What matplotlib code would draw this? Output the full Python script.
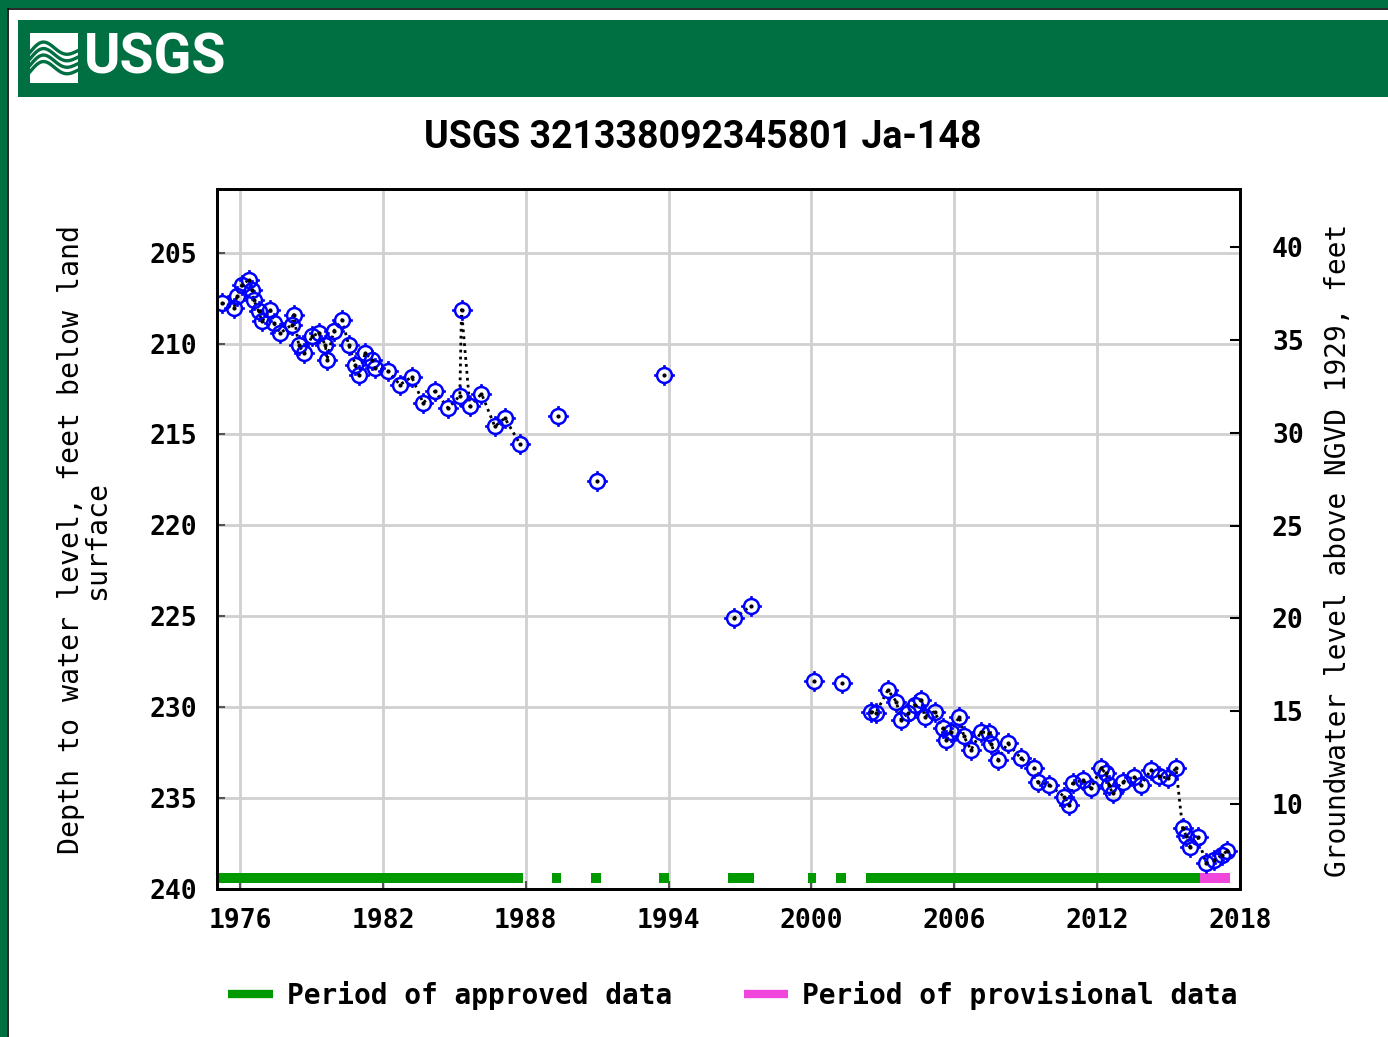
import numpy as np
import matplotlib
matplotlib.use("Agg")
import matplotlib.pyplot as plt
from matplotlib.path import Path
from matplotlib.patches import Rectangle
from matplotlib.lines import Line2D

# --- data ---
years = [
    1975.24, 1975.74, 1975.87, 1976.08, 1976.37, 1976.50, 1976.57, 1976.78, 1976.92,
    1977.27, 1977.41, 1977.69, 1978.18, 1978.25, 1978.46, 1978.67, 1979.02, 1979.30,
    1979.58, 1979.65, 1979.93, 1980.28, 1980.56, 1980.84, 1980.98, 1981.26, 1981.54,
    1981.68, 1982.22, 1982.71, 1983.21, 1983.69, 1984.18, 1984.74, 1985.23, 1985.30,
    1985.65, 1986.14, 1986.70, 1987.12, 1987.75,
    1989.34, 1990.98, 1993.79, 1996.74, 1997.47, 2000.09, 2001.30,
    2002.51, 2002.70, 2003.21, 2003.56, 2003.77, 2004.05, 2004.33, 2004.61, 2004.75,
    2005.17, 2005.51, 2005.66, 2005.85, 2006.21, 2006.40, 2006.70, 2007.12, 2007.47,
    2007.55, 2007.82, 2008.24, 2008.80, 2009.36, 2009.50, 2009.99, 2010.62, 2010.83,
    2010.97, 2011.39, 2011.74, 2012.16, 2012.37, 2012.50, 2012.65, 2013.07, 2013.56,
    2013.84, 2014.26, 2014.60, 2014.96, 2015.31,
    2015.59, 2015.75, 2015.88, 2016.22, 2016.57, 2016.90, 2017.26, 2017.45,
]
depths = [
    207.77, 208.03, 207.40, 206.76, 206.49, 207.04, 207.59, 208.23, 208.78,
    208.14, 208.87, 209.42, 208.96, 208.41, 210.06, 210.52, 209.61, 209.42,
    210.06, 210.89, 209.33, 208.69, 210.06, 211.16, 211.71, 210.52, 210.89,
    211.35, 211.53, 212.26, 211.84, 213.27, 212.63, 213.55, 212.87, 208.14,
    213.46, 212.76, 214.56, 214.10, 215.51,
    213.97, 217.55, 211.71, 225.11, 224.43, 228.56, 228.67,
    230.24, 230.33, 229.05, 229.69, 230.70, 230.30, 229.88, 229.60, 230.52,
    230.24, 231.16, 231.80, 231.35, 230.52, 231.60, 232.35, 231.35, 231.43,
    232.05, 232.90, 231.98, 232.81, 233.36, 234.10, 234.28, 234.92, 235.38,
    234.19, 234.00, 234.46, 233.36, 233.64, 234.30, 234.74, 234.10, 233.82,
    234.28, 233.45, 233.80, 233.90, 233.35,
    236.66, 237.10, 237.67, 237.12, 238.59, 238.40, 238.13, 237.90,
]
approved_start = [1975.0, 1989.1, 1990.75, 1993.6, 1996.5, 1999.86, 2001.05, 2002.3]
approved_end = [1987.9, 1989.5, 1991.15, 1994.0, 1997.6, 2000.2, 2001.45, 2016.3]
provisional_start = [2016.3]
provisional_end = [2017.6]
x_ticks = [1976, 1982, 1988, 1994, 2000, 2006, 2012, 2018]
left_ticks = [205, 210, 215, 220, 225, 230, 235, 240]
right_ticks = [10, 15, 20, 25, 30, 35, 40]

W, H = 1388, 1037
fig = plt.figure(figsize=(W / 100, H / 100), dpi=100)
fig.patch.set_facecolor("white")

GREEN_DARK = "#006F41"
mono = "DejaVu Sans Mono"
narrow = ["Roboto", "DejaVu Sans"]

# outer frame (left and top only visible)
fig.patches.append(Rectangle((0, 0), 7 / W, 1, transform=fig.transFigure,
                             facecolor=GREEN_DARK, edgecolor="none", zorder=-2))
fig.patches.append(Rectangle((0, 1 - 8 / H), 1, 8 / H, transform=fig.transFigure,
                             facecolor=GREEN_DARK, edgecolor="none", zorder=-2))
fig.add_artist(Line2D([7.5 / W, 7.5 / W], [0, 1 - 8.5 / H], color="black", lw=1.2,
                      transform=fig.transFigure))
fig.add_artist(Line2D([7.5 / W, 1], [1 - 8.5 / H, 1 - 8.5 / H], color="black", lw=1.2,
                      transform=fig.transFigure))

# banner with logo
fig.patches.append(Rectangle((18 / W, 1 - 97 / H), 1 - 18 / W, 77 / H, transform=fig.transFigure,
                             facecolor=GREEN_DARK, edgecolor="none", zorder=-2))
logo = fig.add_axes([30 / W, 1 - 83 / H, 48 / W, 50 / H])
logo.set_facecolor("white")
logo.set_xlim(0, 1)
logo.set_ylim(0, 1)
t = np.linspace(0, 1, 60)
for k in range(4):
    logo.plot(t, 0.28 + 0.13 * k + 0.18 * np.sin(2 * np.pi * (t - 0.05)) * (1 - 0.6 * t),
              color=GREEN_DARK, lw=2.4)
logo.set_xticks([])
logo.set_yticks([])
for s in logo.spines.values():
    s.set_visible(False)
fig.text(84 / W, 1 - 58 / H, "USGS", color="white", fontsize=40, fontweight="bold",
         family=narrow, ha="left", va="center")

# title
fig.text(703 / W, 1 - 137 / H, "USGS 321338092345801 Ja-148", fontsize=27,
         fontweight="bold", family=narrow, ha="center", va="center")

# main axes
ax = fig.add_axes([217 / W, 1 - 889 / H, (1240 - 217) / W, (889 - 189) / H])
ax.set_xlim(1975.03, 2018.0)
ax.set_ylim(240.0, 201.5)
ax.set_xticks(x_ticks)
ax.set_yticks(left_ticks)
ax.grid(True, color="#d0d0d0", lw=2)
ax.set_axisbelow(True)
for s in ax.spines.values():
    s.set_linewidth(2)
ax.tick_params(direction="in", length=6, width=1.5, color="#555555")
ax.tick_params(axis="y", pad=14)
ax.tick_params(axis="x", pad=14)
for lab in ax.get_xticklabels() + ax.get_yticklabels():
    lab.set_family(mono)
    lab.set_fontweight("bold")
    lab.set_fontsize(19)

# periods of data
ax.hlines([239.4] * len(approved_start), approved_start, approved_end,
          colors="#009A00", lw=7.2, capstyle="butt", zorder=3)
ax.hlines([239.4] * len(provisional_start), provisional_start, provisional_end,
          colors="#F046DC", lw=7.2, capstyle="butt", zorder=3)

# dotted connecting line, broken at gaps over one year
yr = np.array(years)
dp = np.array(depths)
line_x, line_y = [yr[0]], [dp[0]]
for i in range(1, len(yr)):
    if yr[i] - yr[i - 1] > 1.0:
        line_x.append(np.nan)
        line_y.append(np.nan)
    line_x.append(yr[i])
    line_y.append(dp[i])
ax.plot(line_x, line_y, color="black", lw=2, linestyle=(0, (1, 1.5)), zorder=4)

# gear-like circle marker
parts = [Path.unit_circle()]
for a, b in [((1, 0), (1.4, 0)), ((-1, 0), (-1.4, 0)), ((0, 1), (0, 1.4)), ((0, -1), (0, -1.4))]:
    parts.append(Path([a, b], [Path.MOVETO, Path.LINETO]))
gear = Path.make_compound_path(*parts)
ax.plot(yr, dp, linestyle="none", marker=gear, markersize=15, markerfacecolor="none",
        markeredgecolor="#0000FF", markeredgewidth=1.8, zorder=5)
ax.plot(yr, dp, linestyle="none", marker="o", markersize=2, color="black", zorder=6)

# right axis
ax2 = ax.twinx()
ax2.set_ylim(5.43, 43.12)
ax2.set_yticks(right_ticks)
ax2.tick_params(direction="in", length=7, width=1.5, color="black", pad=23)
for lab in ax2.get_yticklabels():
    lab.set_family(mono)
    lab.set_fontweight("bold")
    lab.set_fontsize(19)
for s in ax2.spines.values():
    s.set_linewidth(2)

# axis labels
fig.text(84 / W, 1 - 540 / H, "Depth to water level, feet below land\nsurface",
         rotation=90, ha="center", va="center", multialignment="center",
         family=mono, fontsize=20.3, linespacing=0.95)
fig.text(1338 / W, 1 - 550 / H, "Groundwater level above NGVD 1929, feet",
         rotation=90, ha="center", va="center", family=mono, fontsize=20)

# legend
handles = [Line2D([], [], color="#009A00", lw=6, solid_capstyle="butt"),
           Line2D([], [], color="#F046DC", lw=6, solid_capstyle="butt")]
leg = fig.legend(handles, ["Period of approved data", "Period of provisional data"],
                 loc="center", bbox_to_anchor=(733 / W, 1 - 995 / H), ncol=2, frameon=False,
                 handlelength=1.6, handletextpad=0.5, columnspacing=2.6,
                 prop={"family": mono, "weight": "bold", "size": 20})

fig.savefig("out.png", dpi=100)
